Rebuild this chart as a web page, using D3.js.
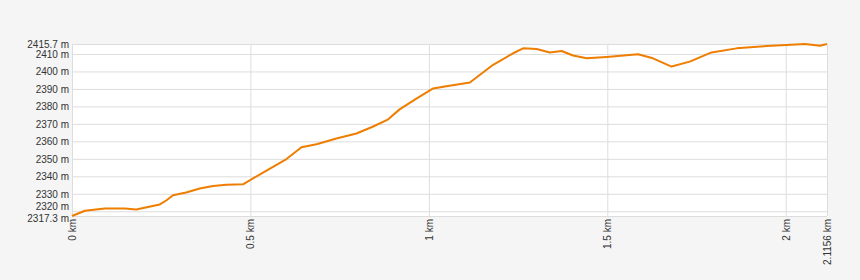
<!DOCTYPE html>
<html>
<head>
<meta charset="utf-8">
<script src="https://cdn.jsdelivr.net/npm/d3@7"></script>
<style>
  body { margin: 0; background: #f5f5f5; }
  svg text { font-family: "Liberation Sans", Arial, sans-serif; font-size: 10px; fill: #333; }
</style>
</head>
<body>
<div id="chart"></div>
<script>
// distance along track (km) and elevation (m)
const distKm = [0, 0.036, 0.092, 0.148, 0.18, 0.246, 0.265, 0.283, 0.32, 0.358, 0.395, 0.433, 0.479, 0.498,
  0.545, 0.601, 0.643, 0.685, 0.741, 0.797, 0.844, 0.886, 0.918, 0.965, 1.012, 1.049, 1.115, 1.18,
  1.236, 1.264, 1.302, 1.339, 1.372, 1.404, 1.442, 1.498, 1.586, 1.628, 1.68, 1.731, 1.792, 1.862,
  1.946, 2.002, 2.054, 2.096, 2.1156];
const elevM = [2317.3, 2320.3, 2321.6, 2321.6, 2321.0, 2323.9, 2326.3, 2329.2, 2330.7, 2333.0, 2334.5, 2335.2, 2335.4, 2337.7,
  2343.3, 2349.9, 2356.6, 2358.3, 2361.6, 2364.5, 2368.5, 2372.6, 2378.3, 2384.5, 2390.3, 2391.5, 2393.7, 2403.8,
  2410.4, 2413.2, 2412.8, 2410.8, 2411.7, 2409.1, 2407.5, 2408.3, 2409.8, 2407.5, 2402.8, 2405.6, 2410.9, 2413.2,
  2414.5, 2415.1, 2415.7, 2414.7, 2415.7];
const xTicks = [0, 0.5, 1, 1.5, 2, 2.1156];
const yTicks = [2317.3, 2320, 2330, 2340, 2350, 2360, 2370, 2380, 2390, 2400, 2410, 2415.7];

const width = 860, height = 280;
const margin = {top: 44, right: 33, bottom: 64, left: 72};

const svg = d3.select('#chart').append('svg')
    .attr('width', width).attr('height', height);

const x = d3.scaleLinear().domain([0, 2.1156]).range([margin.left, width - margin.right]);
const y = d3.scaleLinear().domain([2317.3, 2415.7]).range([height - margin.bottom, margin.top]);

// plot background
svg.append('rect')
    .attr('x', margin.left).attr('y', margin.top)
    .attr('width', x.range()[1] - margin.left)
    .attr('height', y.range()[0] - margin.top)
    .attr('fill', '#fff');

// horizontal grid + labels
const yAxis = d3.axisLeft(y).tickValues(yTicks)
    .tickSize(-(x.range()[1] - margin.left))
    .tickPadding(3)
    .tickFormat(d => d + ' m');
svg.append('g')
    .attr('transform', `translate(${margin.left},0)`)
    .call(yAxis)
    .call(g => g.select('.domain').remove())
    .call(g => g.selectAll('line').attr('stroke', '#ddd'))
    .call(g => g.selectAll('text').attr('fill', '#333'))
    // nudge the two bottom labels apart, they sit very close
    .call(g => g.selectAll('.tick text').filter(d => d === 2320).attr('y', -5))
    .call(g => g.selectAll('.tick text').filter(d => d === 2317.3).attr('y', 2));

// vertical grid + rotated labels
const xAxis = d3.axisBottom(x).tickValues(xTicks)
    .tickSize(-(y.range()[0] - margin.top))
    .tickFormat(d => d + ' km');
svg.append('g')
    .attr('transform', `translate(0,${y.range()[0]})`)
    .call(xAxis)
    .call(g => g.select('.domain').remove())
    .call(g => g.selectAll('line').attr('stroke', '#ddd'))
    .call(g => g.selectAll('text')
        .attr('fill', '#333')
        .attr('transform', 'rotate(-90)')
        .attr('text-anchor', 'end')
        .attr('x', -3).attr('y', 0).attr('dy', '0.35em'));

// elevation line
const line = d3.line()
    .x((d, i) => x(distKm[i]))
    .y(d => y(d));
svg.append('path')
    .datum(elevM)
    .attr('d', line)
    .attr('fill', 'none')
    .attr('stroke', '#ee7d00')
    .attr('stroke-width', 2)
    .attr('stroke-linejoin', 'round');
</script>
</body>
</html>
